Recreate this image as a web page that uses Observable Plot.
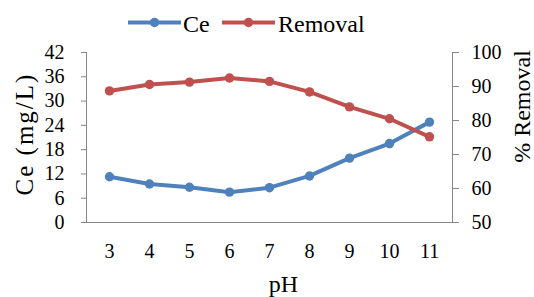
<!DOCTYPE html>
<html>
<head>
<meta charset="utf-8">
<script src="https://cdn.jsdelivr.net/npm/d3@7"></script>
<script src="https://cdn.jsdelivr.net/npm/@observablehq/plot@0.6"></script>
<style>
  html, body { margin: 0; padding: 0; background: #fff; }
  #chart { width: 534px; }
  #legend { display: block; }
</style>
</head>
<body>
<div id="chart"></div>
<script>
// ---- data ----
const pH = [3, 4, 5, 6, 7, 8, 9, 10, 11];
const ce = [11.3, 9.5, 8.7, 7.5, 8.6, 11.5, 15.9, 19.5, 24.8];
const removal = [88.7, 90.6, 91.3, 92.5, 91.5, 88.4, 84.0, 80.5, 75.2];
const ceTicks = [0, 6, 12, 18, 24, 30, 36, 42];
const removalTicks = [50, 60, 70, 80, 90, 100];
const seriesNames = ["Ce", "Removal"];
const seriesColors = ["#4F81BD", "#C0504D"];
const yLabelLeft = "Ce (mg/L)";
const yLabelRight = "% Removal";
const xLabel = "pH";

// map % removal (50..100) onto the left scale (0..42)
const toLeft = r => (r - 50) * 42 / 50;
const fromLeft = v => Math.round(v * 50 / 42 + 50);

const rows = pH.map((p, i) => ({pH: String(p), ce: ce[i], removal: toLeft(removal[i])}));

const font = "Liberation Serif";
const axisGray = "#868686";

// ---- legend (SVG above the plot) ----
const legend = d3.create("svg")
  .attr("id", "legend")
  .attr("width", 534).attr("height", 40)
  .attr("font-family", font).attr("font-size", 24);
const legendX = [128, 222];
const textX = [183, 278];
seriesNames.forEach((name, i) => {
  const g = legend.append("g");
  g.append("line").attr("x1", legendX[i]).attr("x2", legendX[i] + 53)
    .attr("y1", 22.5).attr("y2", 22.5)
    .attr("stroke", seriesColors[i]).attr("stroke-width", 4);
  g.append("circle").attr("cx", legendX[i] + 26.5).attr("cy", 22.5).attr("r", 4.7)
    .attr("fill", seriesColors[i]);
  g.append("text").attr("x", textX[i]).attr("y", 32.3).attr("fill", "#000").text(name);
});
document.getElementById("chart").append(legend.node());

// ---- plot ----
const plot = Plot.plot({
  width: 534,
  height: 257,
  marginTop: 12,
  marginBottom: 75,
  marginLeft: 86,
  marginRight: 82,
  style: {fontFamily: font, fontSize: "20px", color: "#000", background: "#fff", overflow: "visible"},
  x: {type: "point", domain: pH.map(String), padding: 0.5},
  y: {domain: [0, 42]},
  marks: [
    Plot.frame({anchor: "left", stroke: axisGray}),
    Plot.frame({anchor: "right", stroke: axisGray}),
    Plot.frame({anchor: "bottom", stroke: axisGray}),
    Plot.axisX({tickSize: 0, tickPadding: 21, label: null, fontSize: 20}),
    Plot.axisY(ceTicks, {anchor: "left", tickSize: 5, tickPadding: 17, label: null, stroke: axisGray, fill: "#000", fontSize: 20}),
    Plot.axisY(removalTicks.map(toLeft), {anchor: "right", tickSize: 6, tickPadding: 13, label: null,
      tickFormat: fromLeft, stroke: axisGray, fill: "#000", fontSize: 20}),
    Plot.line(rows, {x: "pH", y: "ce", stroke: seriesColors[0], strokeWidth: 4}),
    Plot.dot(rows, {x: "pH", y: "ce", fill: seriesColors[0], r: 4.7}),
    Plot.line(rows, {x: "pH", y: "removal", stroke: seriesColors[1], strokeWidth: 4}),
    Plot.dot(rows, {x: "pH", y: "removal", fill: seriesColors[1], r: 4.7}),
    Plot.text([yLabelLeft], {frameAnchor: "left", textAnchor: "middle", lineAnchor: "middle",
      rotate: -90, dx: -62, dy: -3.5, fontSize: 25, fill: "#000"}),
    Plot.text([yLabelRight], {frameAnchor: "right", textAnchor: "middle", lineAnchor: "middle",
      rotate: -90, dx: 70, dy: -31, fontSize: 24, fill: "#000"}),
    Plot.text([xLabel], {frameAnchor: "bottom", textAnchor: "middle", lineAnchor: "middle",
      dx: 14, dy: 62, fontSize: 24, fill: "#000"})
  ]
});
// the left axis title in the reference is set slightly wider
d3.select(plot).selectAll("text").filter(function() { return this.textContent === yLabelLeft; })
  .style("letter-spacing", "2px");
document.getElementById("chart").append(plot);
</script>
</body>
</html>
